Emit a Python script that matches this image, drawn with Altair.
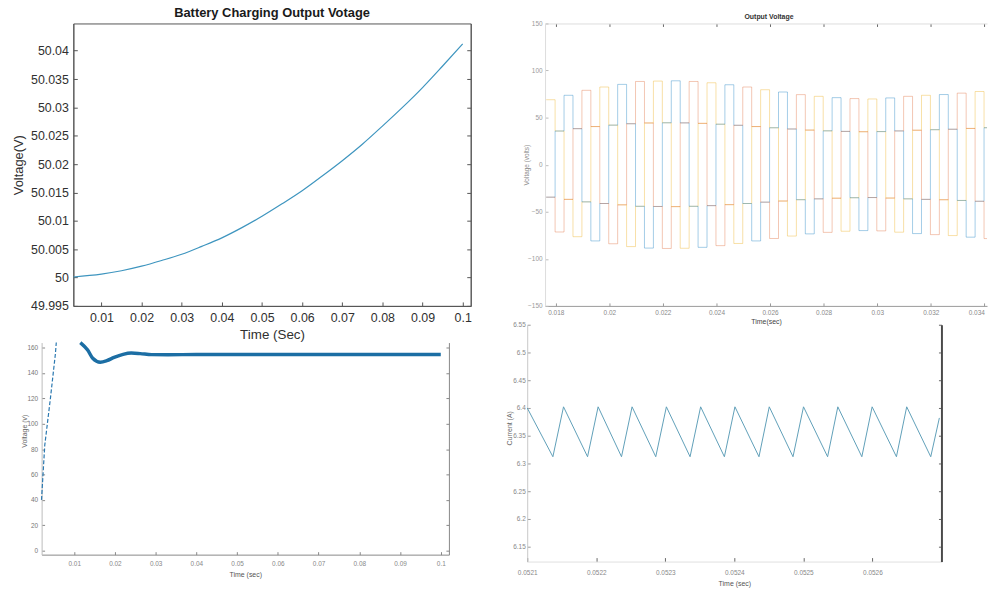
import altair as alt
import pandas as pd

FONT = "Liberation Sans"

# ---------------- Panel 1: Battery charging output voltage ----------------
p1_time = [0.003, 0.01, 0.015, 0.02, 0.025, 0.03, 0.035, 0.04, 0.045, 0.05,
           0.055, 0.06, 0.065, 0.07, 0.075, 0.08, 0.085, 0.09, 0.095, 0.1]
p1_volt = [50.0001, 50.0006, 50.0012, 50.0020, 50.0030, 50.0041, 50.0055, 50.0070,
           50.0088, 50.0108, 50.0130, 50.0153, 50.0179, 50.0206, 50.0235, 50.0267,
           50.0300, 50.0335, 50.0373, 50.0412]
p1_xticks = [0.01, 0.02, 0.03, 0.04, 0.05, 0.06, 0.07, 0.08, 0.09, 0.1]
p1_yticks = [49.995, 50.0, 50.005, 50.01, 50.015, 50.02, 50.025, 50.03, 50.035, 50.04]

# ---------------- Panel 2: three-phase output voltage ----------------
p2_env = [69, 71.5, 73.7, 76.5, 79, 81, 82.5, 84, 85.3, 87,
          88.4, 88.6, 88.8, 89, 89.1, 88.8, 88.4, 87.8, 87, 86,
          84.9, 83.7, 82.5, 81, 79.6, 78.4, 77.2, 75.8, 74.4, 73.5,
          72.6, 71.9, 71.2, 70.7, 70.2, 70, 69.8, 70.3, 70.9, 71.7,
          72.6, 73.2, 73.7, 74.3, 74.5, 75.3, 76, 77, 77.7, 78.5]
p2_pattern = [0.5, 1.0, 0.5, -0.5, -1.0, -0.5]
p2_phases = ["Phase A", "Phase B", "Phase C"]
p2_shift = [1, 5, 3]
p2_colors = ["#EDB120", "#0072BD", "#D95319"]
p2_opac = [0.4, 0.33, 0.33]
p2_t0 = 0.017642
p2_dt = 0.0003336
p2_xdomain = [0.0176, 0.0341]
p2_xticks = [0.018, 0.02, 0.022, 0.024, 0.026, 0.028, 0.03, 0.032, 0.034]
p2_yticks = [-150, -100, -50, 0, 50, 100, 150]

# ---------------- Panel 3: DC voltage (visible parts of the trace) ----------------
p3_rise_time = [0.00197, 0.00277, 0.00416, 0.00538, 0.0056]
p3_rise_volt = [40, 83, 120, 155, 163.9]
p3_main_time = [0.0115, 0.0133, 0.01455, 0.0164, 0.0180, 0.0198, 0.0220, 0.0240,
                0.0262, 0.0290, 0.0330, 0.04, 0.06, 0.08, 0.1]
p3_main_volt = [163.9, 158, 151.5, 148.4, 149.6, 152.2, 154.6, 155.6,
                155.2, 154.4, 154.3, 154.5, 154.5, 154.5, 154.5]
p3_xticks = [0.01, 0.02, 0.03, 0.04, 0.05, 0.06, 0.07, 0.08, 0.09, 0.1]
p3_yticks = [0, 20, 40, 60, 80, 100, 120, 140, 160]

# ---------------- Panel 4: current ripple ----------------
p4_time = [0.0521, 0.0521372, 0.0521526, 0.0521874, 0.0522027, 0.0522366, 0.0522519,
           0.0522862, 0.0523016, 0.0523359, 0.0523512, 0.0523856, 0.0524009,
           0.0524357, 0.0524506, 0.0524850, 0.0525002, 0.0525351, 0.0525499,
           0.0525847, 0.0525996, 0.0526348, 0.0526497, 0.0526845, 0.0526970]
p4_curr = [6.400, 6.312, 6.402, 6.312, 6.402, 6.312, 6.402, 6.312, 6.402, 6.312,
           6.402, 6.312, 6.402, 6.312, 6.402, 6.312, 6.402, 6.312, 6.402, 6.312,
           6.402, 6.312, 6.402, 6.312, 6.382]
p4_xticks = [0.0521, 0.0522, 0.0523, 0.0524, 0.0525, 0.0526]
p4_yticks = [6.15, 6.2, 6.25, 6.3, 6.35, 6.4, 6.45, 6.5, 6.55]


def neg(n):
    return alt.ExprRef(expr=f"-{n}")


def ax(**kw):
    base = dict(grid=False, labelFont=FONT, titleFont=FONT, labelOverlap=False,
                titleFontWeight="normal", labelFlush=False)
    base.update(kw)
    return alt.Axis(**base)


# ---------- Panel 1 ----------
df1 = pd.DataFrame({"t": p1_time, "v": p1_volt})
x1 = alt.Scale(domain=[0.003, 0.102], nice=False, zero=False)
y1 = alt.Scale(domain=[49.995, 50.0448], nice=False, zero=False)
line1 = alt.Chart(df1).mark_line(color="#3e95bf", strokeWidth=1.2, interpolate="monotone").encode(
    x=alt.X("t:Q", scale=x1, axis=ax(orient="bottom", values=p1_xticks, format="~g", title="Time (Sec)",
                                     tickSize=neg(4), labelPadding=10, labelFontSize=12.5, labelColor="#303030",
                                     titleFontSize=13.5, titleColor="#303030", titleY=29, titleBaseline="middle",
                                     domainColor="#555555", tickColor="#555555")),
    y=alt.Y("v:Q", scale=y1, axis=ax(orient="left", values=p1_yticks, format="~g", title="Voltage(V)",
                                     tickSize=neg(4), labelPadding=9, labelFontSize=12.5, labelColor="#303030",
                                     titleFontSize=13, titleColor="#303030", titleX=-55, titleY=142.5,
                                     titleBaseline="middle", titleAngle=270,
                                     domainColor="#555555", tickColor="#555555")),
)
right1 = alt.Chart(df1).mark_point(opacity=0).encode(
    x=alt.X("t:Q", scale=x1, axis=None),
    y=alt.Y("v:Q", scale=y1, axis=ax(orient="right", values=p1_yticks, labels=False, title=None,
                                     tickSize=neg(4), domainColor="#555555", tickColor="#555555")),
)
p1 = alt.layer(line1, right1).resolve_scale(x="independent", y="independent").properties(
    width=401, height=285, view=alt.ViewBackground(stroke="#555555", strokeWidth=1),
    title=alt.TitleParams("Battery Charging Output Votage", font=FONT, fontSize=13, fontWeight="bold",
                          color="#1a1a1a", offset=4, dy=10, baseline="alphabetic",
                          anchor="middle", frame="group"),
)

# ---------- Panel 2 ----------
rows = []
n_steps = len(p2_env)
for name, s in zip(p2_phases, p2_shift):
    for k, e in enumerate(p2_env):
        rows.append({"phase": name, "t": p2_t0 + k * p2_dt, "v": p2_pattern[(k + s) % 6] * e})
    rows.append({"phase": name, "t": min(p2_t0 + n_steps * p2_dt, p2_xdomain[1]),
                 "v": p2_pattern[(n_steps - 1 + s) % 6] * p2_env[-1]})
df2 = pd.DataFrame(rows)
x2 = alt.Scale(domain=p2_xdomain, nice=False, zero=False)
y2 = alt.Scale(domain=[-150, 150], nice=False, zero=False)
line2 = alt.Chart(df2).mark_line(strokeWidth=1, interpolate="step-after").encode(
    x=alt.X("t:Q", scale=x2, axis=ax(orient="bottom", values=p2_xticks, format="~g", title="Time(sec)",
                                     tickSize=neg(3), labelPadding=7, labelFontSize=6.5, labelColor="#8a8a8a",
                                     titleFontSize=7, titleColor="#444444", titleY=16, titleBaseline="middle",
                                     domainColor="#9a9a9a", tickColor="#999999", labelFlush=6)),
    y=alt.Y("v:Q", scale=y2, axis=ax(orient="left", values=p2_yticks, format="d", title="Voltage (volts)",
                                     tickSize=neg(3), labelPadding=6, labelFontSize=6.5, labelColor="#9a9a9a",
                                     titleFontSize=6.5, titleColor="#8a8a8a", titleX=-19, titleY=142.5,
                                     titleBaseline="middle", titleAngle=270,
                                     domainColor="#dddddd", tickColor="#bbbbbb")),
    color=alt.Color("phase:N", scale=alt.Scale(domain=p2_phases, range=p2_colors), legend=None),
    opacity=alt.Opacity("phase:N", scale=alt.Scale(domain=p2_phases, range=p2_opac), legend=None),
)
top2 = alt.Chart(df2).mark_point(opacity=0).encode(
    x=alt.X("t:Q", scale=x2, axis=ax(orient="top", values=p2_xticks, labels=False, title=None,
                                     tickSize=neg(3), domainColor="#dddddd", tickColor="#666666")),
    y=alt.Y("v:Q", scale=y2, axis=None),
)
p2 = alt.layer(line2, top2).resolve_scale(x="independent", y="independent").properties(
    width=446, height=285,
    title=alt.TitleParams("Output Voltage", font=FONT, fontSize=7, fontWeight="bold", color="#333333",
                          offset=3, dy=8, dx=3, baseline="alphabetic", anchor="middle", frame="group"),
)

# ---------- Panel 3 (plot range starts 32 px left of the panel above) ----------
df3r = pd.DataFrame({"t": p3_rise_time, "v": p3_rise_volt})
df3m = pd.DataFrame({"t": p3_main_time, "v": p3_main_volt})
x3 = alt.Scale(domain=[0.002, 0.102], range=[-32, 379], nice=False, zero=False)
y3 = alt.Scale(domain=[-3.1, 163.9], nice=False, zero=False)
x3_axis = ax(orient="bottom", values=p3_xticks, format="~g", title="Time (sec)",
             tickSize=neg(3), labelPadding=9, labelFontSize=6.5, labelColor="#888888",
             titleFontSize=7, titleColor="#555555", titleY=20, titleBaseline="middle",
             domainColor="#888888", tickColor="#888888")
y3_axis = ax(orient="left", values=p3_yticks, format="d", title="Voltage (v)", offset=32,
             tickSize=neg(3), labelPadding=7, labelFontSize=6.5, labelColor="#777777",
             titleFontSize=7, titleColor="#666666", titleX=-17.5, titleY=89,
             titleBaseline="middle", titleAngle=270,
             domainColor="#bbbbbb", tickColor="#888888")
rise3 = alt.Chart(df3r).mark_line(color="#2a78b0", strokeWidth=1.2, strokeDash=[4, 2]).encode(
    x=alt.X("t:Q", scale=x3, axis=x3_axis),
    y=alt.Y("v:Q", scale=y3, axis=y3_axis),
)
main3 = alt.Chart(df3m).mark_line(color="#1c6ea4", strokeWidth=3.5, interpolate="monotone").encode(
    x=alt.X("t:Q", scale=x3, axis=x3_axis),
    y=alt.Y("v:Q", scale=y3, axis=y3_axis),
)
right3 = alt.Chart(df3m).mark_point(opacity=0).encode(
    x=alt.X("t:Q", scale=x3, axis=None),
    y=alt.Y("v:Q", scale=y3, axis=ax(orient="right", values=p3_yticks, labels=False, title=None,
                                     tickSize=neg(3), domainColor="#888888", tickColor="#888888")),
)
p3 = alt.layer(alt.layer(rise3, main3), right3).resolve_scale(x="independent", y="independent").properties(
    width=379, height=214)

# ---------- Panel 4 (plot range starts 18 px left of the panel above) ----------
df4 = pd.DataFrame({"t": p4_time, "i": p4_curr})
x4 = alt.Scale(domain=[0.0521, 0.0527], range=[-18, 400], nice=False, zero=False)
y4 = alt.Scale(domain=[6.123, 6.55], nice=False, zero=False)
line4 = alt.Chart(df4).mark_line(color="#5f9fb8", strokeWidth=1).encode(
    x=alt.X("t:Q", scale=x4, axis=ax(orient="bottom", values=p4_xticks, format="~g", title="Time (sec)",
                                     tickSize=neg(4), labelPadding=12, labelFontSize=6.5, labelColor="#888888",
                                     titleFontSize=7, titleColor="#555555", titleY=22, titleBaseline="middle",
                                     domainColor="#e0e0e0", tickColor="#666666")),
    y=alt.Y("i:Q", scale=y4, axis=ax(orient="left", values=p4_yticks, format="~g", title="Current (A)",
                                     offset=18,
                                     tickSize=neg(3), labelPadding=5, labelFontSize=6.5, labelColor="#888888",
                                     titleFontSize=7, titleColor="#666666", titleX=-18, titleY=104,
                                     titleBaseline="middle", titleAngle=270,
                                     domainColor="#c8c8c8", tickColor="#999999")),
)
right4 = alt.Chart(df4).mark_point(opacity=0).encode(
    x=alt.X("t:Q", scale=x4, axis=None),
    y=alt.Y("i:Q", scale=y4, axis=ax(orient="right", values=p4_yticks, labels=False, title=None,
                                     tickSize=neg(3), domainColor="#4a4a4a", domainWidth=2,
                                     tickColor="#666666")),
)
p4 = alt.layer(line4, right4).resolve_scale(x="independent", y="independent").properties(
    width=400, height=239)

# ---------- Layout ----------
left_col = alt.vconcat(p1, p3, spacing=37, bounds="flush")
right_col = alt.vconcat(p2, p4, spacing=19, bounds="flush")
chart = alt.hconcat(left_col, right_col, spacing=25).configure_view(stroke=None).properties(
    padding={"left": 12, "top": 3, "right": 0, "bottom": 0}, background="white")

chart.save("out.html", embed_options={"renderer": "svg", "actions": False})
